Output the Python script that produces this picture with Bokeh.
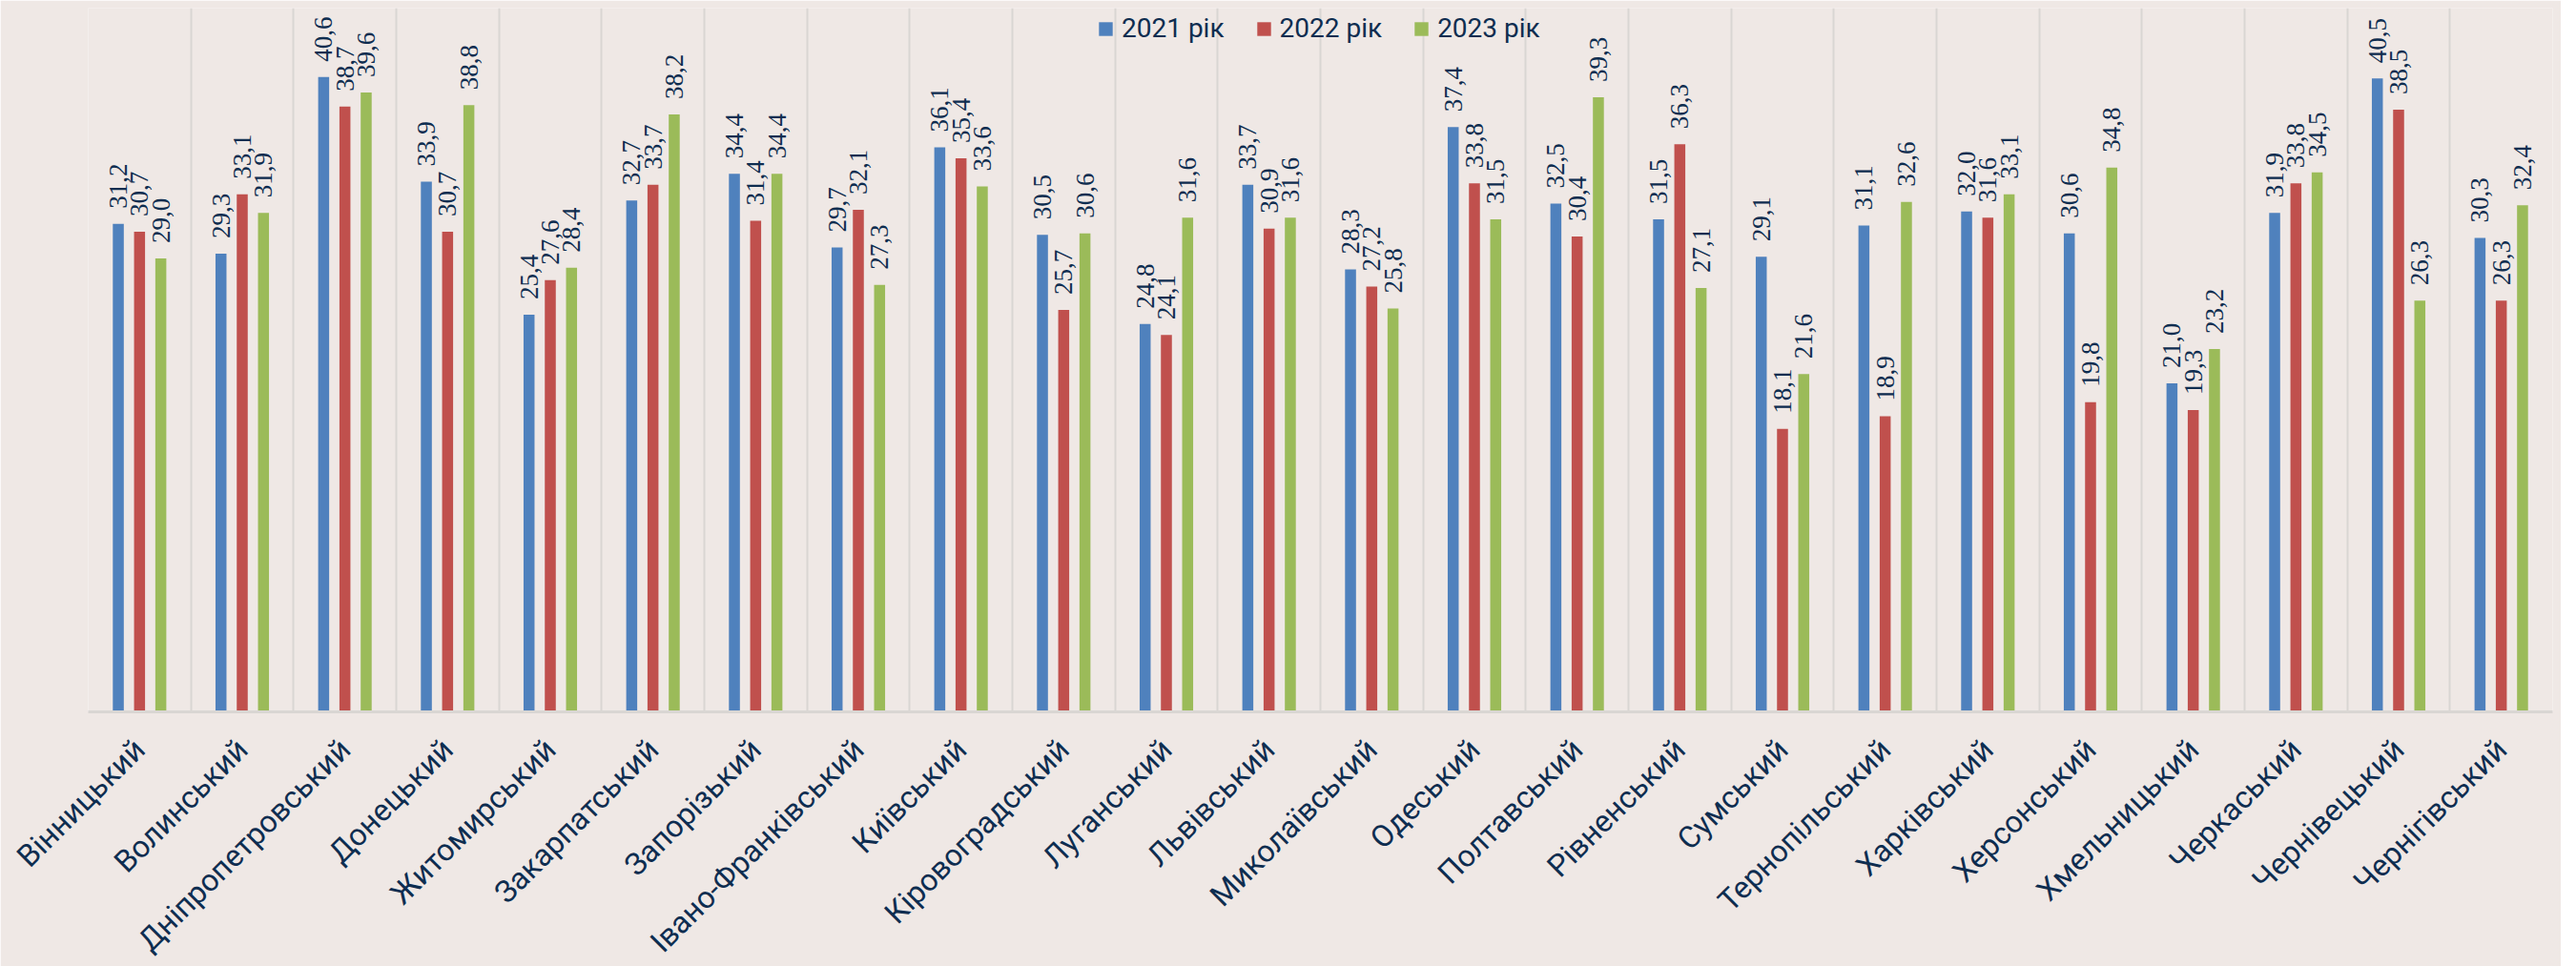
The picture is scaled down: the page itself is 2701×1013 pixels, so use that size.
import math
from bokeh.plotting import figure
from bokeh.models import ColumnDataSource, FactorRange, LabelSet, Legend, LegendItem, FixedTicker
from bokeh.transform import dodge
from bokeh.embed import file_html
from bokeh.resources import INLINE

regions = ["Вінницький", "Волинський", "Дніпропетровський", "Донецький", "Житомирський",
           "Закарпатський", "Запорізький", "Івано-Франківський", "Київський", "Кіровоградський",
           "Луганський", "Львівський", "Миколаївський", "Одеський", "Полтавський",
           "Рівненський", "Сумський", "Тернопільський", "Харківський", "Херсонський",
           "Хмельницький", "Черкаський", "Чернівецький", "Чернігівський"]
v2021 = [31.2, 29.3, 40.6, 33.9, 25.4, 32.7, 34.4, 29.7, 36.1, 30.5, 24.8, 33.7, 28.3, 37.4, 32.5,
         31.5, 29.1, 31.1, 32.0, 30.6, 21.0, 31.9, 40.5, 30.3]
v2022 = [30.7, 33.1, 38.7, 30.7, 27.6, 33.7, 31.4, 32.1, 35.4, 25.7, 24.1, 30.9, 27.2, 33.8, 30.4,
         36.3, 18.1, 18.9, 31.6, 19.8, 19.3, 33.8, 38.5, 26.3]
v2023 = [29.0, 31.9, 39.6, 38.8, 28.4, 38.2, 34.4, 27.3, 33.6, 30.6, 31.6, 31.6, 25.8, 31.5, 39.3,
         27.1, 21.6, 32.6, 33.1, 34.8, 23.2, 34.5, 26.3, 32.4]
series_names = ["2021 рік", "2022 рік", "2023 рік"]
colors = ["#4F81BD", "#C0504D", "#9BBB59"]

def fmt(vals):
    return [f"{v:.1f}".replace(".", ",") for v in vals]

src = ColumnDataSource(dict(cat=regions, v2021=v2021, v2022=v2022, v2023=v2023,
                            t2021=fmt(v2021), t2022=fmt(v2022), t2023=fmt(v2023)))

BG = "#EFE8E5"
TXT = "#0E2D50"

p = figure(frame_width=2584, frame_height=738, output_backend="svg", toolbar_location=None,
           x_range=FactorRange(*regions, range_padding=0), y_range=(0, 45),
           min_border_left=92, min_border_right=9, min_border_top=8, min_border_bottom=248,
           background_fill_color=BG, border_fill_color=BG, outline_line_color=None)

p.yaxis.visible = False
p.ygrid.visible = False
p.xgrid.ticker = FixedTicker(ticks=list(range(len(regions) + 1)))
p.xgrid.grid_line_color = "#D9D6D3"
p.xgrid.grid_line_width = 2

p.xaxis.axis_line_color = "#D9D6D3"
p.xaxis.axis_line_width = 3
p.xaxis.major_tick_line_color = None
p.xaxis.minor_tick_line_color = None
p.xaxis.major_label_orientation = math.pi / 4
p.xaxis.major_label_text_font = "Roboto"
p.xaxis.major_label_text_font_size = "32px"
p.xaxis.major_label_text_color = TXT
p.xaxis.major_label_standoff = 28

offsets = [-0.207, 0.0, 0.207]
keys = ["2021", "2022", "2023"]
items = []
for k, off, col, name in zip(keys, offsets, colors, series_names):
    r = p.vbar(x=dodge("cat", off, range=p.x_range), top="v" + k, width=0.107, source=src,
               fill_color=col, line_color=None)
    items.append(LegendItem(label=name, renderers=[r]))
    lbl = LabelSet(x=dodge("cat", off, range=p.x_range), y="v" + k, text="t" + k, source=src,
                   angle=math.pi / 2, text_align="left", text_baseline="middle",
                   y_offset=16, text_font="Liberation Sans Narrow", text_font_size="27px",
                   text_color=TXT)
    p.add_layout(lbl)

legend = Legend(items=items, orientation="horizontal", location=(1058, 700),
                glyph_width=18, glyph_height=18, label_standoff=8, spacing=32,
                padding=0, margin=0, border_line_color=None, background_fill_alpha=0,
                label_text_font="Roboto", label_text_font_size="28px", label_text_color=TXT)
p.add_layout(legend, "center")

open("out.html", "w").write(file_html(p, INLINE))
